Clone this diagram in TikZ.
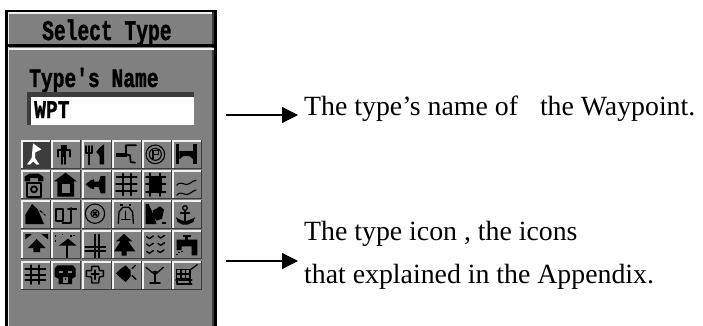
\documentclass[tikz,border=0pt]{standalone}
\usepackage{fontspec}
\usetikzlibrary{arrows.meta}
\setmainfont{Liberation Serif}
\newfontfamily\pixfont[BoldFeatures={FakeBold=1.6}]{Liberation Mono}
\definecolor{wgray}{HTML}{808080}
\definecolor{wdark}{HTML}{3C3C3C}
\definecolor{wlight}{HTML}{F0F0F0}
\tikzset{
  lbl/.style={anchor=base west,inner sep=0pt,font=\fontsize{27.8}{32}\selectfont},
  pix/.style={anchor=base west,inner sep=0pt,font=\pixfont\bfseries\fontsize{19.6}{24}\selectfont},
  pointer/.style={draw=black,line width=1.2pt,-{Triangle[length=16pt,width=16pt]}},
  ink/.style={draw=black,line width=1.8pt,line join=round,line cap=round},
  thin ink/.style={draw=black,line width=1.1pt,line join=round,line cap=round},
  zoomed/.style={shift={(#1)},scale=1/3},
}
\newcommand{\iconcell}[3]{%
  \fill[#3] (#1,#2) rectangle ++(29.5,28.5);
  \fill[wlight] (#1,#2) rectangle ++(29.5,1.8);
  \fill[wlight] (#1,#2) rectangle ++(1.8,28.5);
  \fill[wdark] (#1,#2+28) rectangle ++(29.5,1.2);
  \fill[wdark] (#1+29,#2) rectangle ++(1.2,29.2);
}
\begin{document}
\begin{tikzpicture}[x=1pt,y=-1pt]
\useasboundingbox (0,0) rectangle (703,326);
\fill[white] (0,0) rectangle (703,326);
% window
\fill[black] (5,10) rectangle (216.5,326);
\fill[wgray] (7.5,12.5) rectangle (213.5,326);
\fill[wlight] (7.5,12.5) rectangle (213.5,14);
\fill[wlight] (7.5,12.5) rectangle (9,326);
\fill[wdark] (212,12.5) rectangle (213.5,326);
\fill[black] (5,44.5) rectangle (216.5,47.5);
\fill[wlight] (7.5,48) rectangle (213.5,50);
% texts in window
\node[pix] (title) at (42,40) {\scalebox{1}[1.45]{Select Type}};
\node[pix] (tname) at (29,87) {\scalebox{1}[1.35]{Type's Name}};
% input
\fill[wdark] (27,92) rectangle (194,124.5);
\fill[white] (31,97) rectangle (194,124.5);
\node[pix] (wpt) at (34,118) {\scalebox{1}[1.3]{WPT}};
% cells
\iconcell{21}{140}{wdark}
\foreach \x/\y in {51/140,82/140,112/140,142/140,172/140,
  21/170,51/170,82/170,112/170,142/170,172/170,
  21/200,51/200,82/200,112/200,142/200,172/200,
  21/230,51/230,82/230,112/230,142/230,172/230,
  21/261,51/261,82/261,112/261,142/261,172/261}{\iconcell{\x}{\y}{wgray}}
% left icons rows 1-2
\begin{scope}[zoomed={18,136}]
 \fill[white] (45,22)--(70,40)--(51,50)--(51,66)--(64,85)--(56,86)--(46,76)--(36,86)--(27,85)--(41,66)--cycle;
 \fill (128,26) rectangle (146,39); \fill (129,42) rectangle (145,64);
 \draw[ink] (119,62)--(119,43)--(155,43)--(155,62);
 \draw[ink] (132,62)--(132,84) (142,62)--(142,84);
 \draw[ink] (205,30)--(205,50)--(223,50)--(223,30) (214,30)--(214,85);
 \fill (258,25)--(258,85)--(245,85)--(245,60)--(235,48)--(245,35)--cycle;
 % phone
 \fill (20,136)--(20,122)--(34,113)--(62,113)--(76,122)--(76,136)--(60,136)--(60,126)--(36,126)--(36,136)--cycle;
 \draw[ink] (28,183) rectangle (68,142);
 \draw[ink] (48,160) circle (9);
 % house
 \fill (143,110)--(176,136)--(168,136)--(168,182)--(118,182)--(118,136)--(108,136)--cycle;
 \fill[wgray] (131,144) rectangle (155,172);
 % plane
 \fill (203,145)--(218,133)--(228,130)--(228,137)--(242,137)--(248,120)--(262,120)--(262,172)--(248,172)--(242,153)--(228,153)--(228,160)--(218,157)--cycle;
\end{scope}
% right icons rows 1-2
\begin{scope}[zoomed={110,136}]
 \draw[ink] (78,28)--(48,28)--(48,55)--(60,58)--(62,78)--(75,80);
 \fill (18,50) rectangle (50,62);
 \draw[thin ink] (136,55) circle (28);
 \draw[thin ink] (136,55) circle (18);
 \draw[ink,line width=1.3pt] (129,68)--(129,44)--(145,44)--(145,56)--(129,56);
 \fill (198,25) rectangle (208,85); \fill (250,25) rectangle (260,85);
 \fill (208,45)--(250,45)--(250,70)--(238,60)--(220,60)--(208,70)--cycle;
 \draw[ink] (20,124)--(80,124) (18,145)--(80,145) (18,165)--(80,165) (38,113)--(38,178) (62,113)--(62,178);
 \fill (116,122) rectangle (156,168);
 \draw[ink] (108,122)--(166,122) (108,145)--(166,145) (108,168)--(166,168) (120,112)--(120,180) (150,112)--(150,180);
 \draw[thin ink] (200,148) .. controls (215,130) and (225,155) .. (240,142) .. controls (247,136) and (252,134) .. (258,133);
 \draw[thin ink] (200,178) .. controls (215,160) and (225,185) .. (240,172) .. controls (247,166) and (252,164) .. (258,162);
\end{scope}
% left icons rows 3-4
\begin{scope}[zoomed={18,198}]
 \fill (42,18)--(60,35)--(78,78)--(22,78)--(22,50)--cycle;
 \draw[thin ink,dash pattern=on 3pt off 2pt] (66,38)--(82,52);
 \draw[ink] (115,34) rectangle (134,70);
 \draw[ink] (160,30)--(160,76)--(134,76);
 \draw[ink] (150,32)--(175,32);
 \draw[thin ink] (231,47) circle (29);
 \draw[thin ink] (231,47) circle (12);
 \draw[ink] (226,42)--(236,52) (236,42)--(226,52);
 \fill (22,108)--(42,108)--(22,124)--cycle;
 \fill (90,108)--(70,108)--(90,124)--cycle;
 \fill (56,123)--(83,150)--(66,150)--(66,162)--(46,162)--(46,150)--(30,150)--cycle;
 \fill (150,122)--(176,143)--(122,143)--cycle;
 \draw[ink] (148,140)--(148,178);
 \fill (111,112) rectangle (115,118); \fill (111,126) rectangle (115,132);
 \fill (156,112) rectangle (161,116); \fill (165,110) rectangle (170,114); \fill (131,107) rectangle (136,111);
 \draw[ink] (232,110)--(232,178) (244,110)--(244,178) (202,148)--(262,148) (202,158)--(262,158);
\end{scope}
% right icons rows 3-4
\begin{scope}[zoomed={110,198}]
 \fill (30,18) rectangle (38,24); \fill (56,18) rectangle (64,24);
 \draw[ink,line width=1.3pt] (25,76)--(27,42)--(38,28)--(57,28)--(68,42)--(70,76);
 \draw[ink,line width=1.3pt] (47,40)--(47,65) (35,65)--(60,65);
 \fill (107,18)--(116,18)--(128,45)--(140,78)--(107,78)--cycle;
 \fill (128,38)--(150,25)--(162,35)--(156,62)--(140,68)--(130,55)--cycle;
 \fill (155,73) rectangle (168,78);
 \draw[ink,line width=1.3pt] (225,30) circle (7);
 \draw[ink] (225,38)--(225,72) (212,46)--(238,46);
 \fill (198,58)--(212,66)--(225,70)--(238,66)--(255,58)--(250,72)--(232,80)--(218,80)--(203,72)--cycle;
 \fill (42,108)--(67,130)--(54,130)--(76,160)--(50,160)--(50,173)--(35,173)--(35,160)--(12,160)--(32,130)--(18,130)--cycle;
 \foreach \a/\b in {118/118,152/116,118/140,152/138,118/162,150/160}{
   \draw[ink,line width=1.4pt] (\a-8,\b-2)--(\a,\b+4)--(\a+12,\b-4);}
 \fill (218,110) rectangle (242,116);
 \fill (226,116) rectangle (234,125);
 \fill (200,125)--(262,125)--(262,172)--(245,172)--(245,145)--(215,145)--(215,156)--(200,156)--cycle;
 \fill (205,162) rectangle (210,166); \fill (214,158) rectangle (218,162); \fill (197,168) rectangle (203,172);
\end{scope}
% bottom row left
\begin{scope}[zoomed={18,258}]
 \draw[ink] (22,33)--(82,33) (22,50)--(82,50) (22,66)--(82,66) (38,22)--(38,78) (62,22)--(62,78);
 \fill (118,22)--(165,22)--(173,32)--(173,56)--(162,62)--(162,78)--(122,78)--(122,62)--(110,56)--(110,32)--cycle;
 \fill[wgray] (122,38) rectangle (135,45); \fill[wgray] (150,38) rectangle (163,45);
 \fill[wgray] (136,58) rectangle (150,75);
 \fill (141,60) rectangle (145,66);
 \draw[ink,line width=1.4pt] (222,25)--(242,25)--(244,38)--(256,38)--(256,55)--(244,57)--(242,75)--(222,75)--(220,57)--(205,55)--(205,38)--(220,38)--cycle;
 \draw[ink,line width=1.3pt] (231,36)--(231,64) (220,48)--(243,48);
\end{scope}
% bottom row right
\begin{scope}[zoomed={110,258}]
 \fill (47,22)--(62,38)--(62,55)--(47,72)--(30,58)--(18,46)--(30,34)--cycle;
 \draw[ink,line width=1.3pt] (66,32)--(76,22) (66,52)--(78,64);
 \draw[ink,line width=1.3pt] (108,28)--(135,50)--(160,28);
 \fill (125,42)--(135,50)--(145,42)--(135,38)--cycle;
 \draw[ink] (135,50)--(135,72) (120,75)--(150,75);
 \draw[ink,line width=1.3pt] (200,35)--(240,35)--(240,62)--(200,62)--cycle (213,35)--(213,62) (226,35)--(226,62) (200,48)--(240,48);
 \draw[ink,line width=1.3pt] (240,36)--(262,20);
 \draw[ink] (198,65)--(245,65) (200,65)--(200,78)--(245,78) (240,65)--(240,78);
\end{scope}
% right-hand text
\node[lbl] (nameText) at (304,115) {The type’s name of\hspace{15pt} the Waypoint.};
\node[lbl] (iconText) at (304,240) {The type icon , the icons};
\node[lbl] (explainText) at (304,283) {that explained in the Appendix.};
\coordinate (nameFrom) at (226,115);
\coordinate (nameTo) at (298,115);
\coordinate (iconFrom) at (226,261);
\coordinate (iconTo) at (298,261);
\draw[pointer] (nameFrom) -- (nameTo);
\draw[pointer] (iconFrom) -- (iconTo);
\end{tikzpicture}
\end{document}
